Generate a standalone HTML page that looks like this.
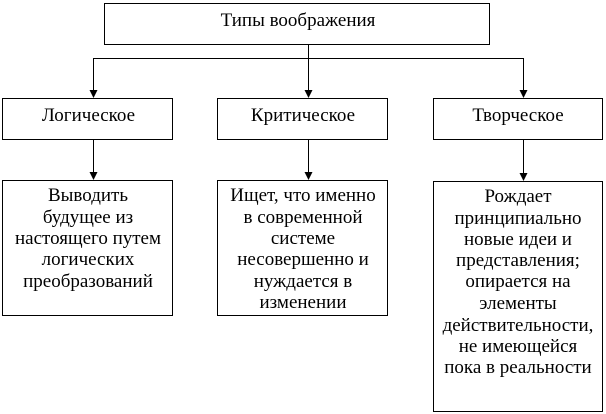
<!DOCTYPE html>
<html lang="ru">
<head>
<meta charset="utf-8">
<title>Типы воображения</title>
<style>
html,body{margin:0;padding:0;background:#fff;width:606px;height:414px;overflow:hidden}
svg{display:block}
text{font-family:"Liberation Serif","DejaVu Serif",serif;font-size:19px;fill:#000;text-anchor:middle}
rect{fill:#fff;stroke:#000;stroke-width:1}
line{stroke:#000;stroke-width:1}
polygon{fill:#000}
</style>
</head>
<body>
<svg width="606" height="414" viewBox="0 0 606 414" xmlns="http://www.w3.org/2000/svg" shape-rendering="crispEdges">
  <rect x="104.5" y="3.5" width="385" height="41"/>
  <rect x="2.5" y="98.5" width="170" height="41"/>
  <rect x="217.5" y="98.5" width="170" height="41"/>
  <rect x="433.5" y="98.5" width="169" height="41"/>
  <rect x="2.5" y="180.5" width="170" height="135"/>
  <rect x="217.5" y="180.5" width="170" height="135"/>
  <rect x="433.5" y="181.5" width="169" height="230"/>

  <line x1="93" y1="58.5" x2="524" y2="58.5"/>
  <line x1="93.5" y1="58" x2="93.5" y2="92"/>
  <line x1="308.5" y1="44" x2="308.5" y2="92"/>
  <line x1="523.5" y1="58" x2="523.5" y2="92"/>
  <line x1="93.5" y1="139" x2="93.5" y2="174"/>
  <line x1="308.5" y1="139" x2="308.5" y2="174"/>
  <line x1="523.5" y1="139" x2="523.5" y2="175"/>

  <g shape-rendering="auto">
    <polygon points="89.5,90 97.5,90 93.5,98"/>
    <polygon points="304.5,90 312.5,90 308.5,98"/>
    <polygon points="519.5,90 527.5,90 523.5,98"/>
    <polygon points="89.5,172 97.5,172 93.5,180"/>
    <polygon points="304.5,172 312.5,172 308.5,180"/>
    <polygon points="519.5,173 527.5,173 523.5,181"/>
  </g>

  <text x="298" y="26">Типы воображения</text>
  <text x="88.5" y="121">Логическое</text>
  <text x="303" y="121">Критическое</text>
  <text x="518" y="121">Творческое</text>

  <text x="88" y="201">Выводить</text>
  <text x="88" y="223">будущее из</text>
  <text x="88" y="244">настоящего путем</text>
  <text x="88" y="265">логических</text>
  <text x="88" y="287">преобразований</text>

  <text x="303" y="201">Ищет, что именно</text>
  <text x="303" y="223">в современной</text>
  <text x="303" y="244">системе</text>
  <text x="303" y="265">несовершенно и</text>
  <text x="303" y="287">нуждается в</text>
  <text x="303" y="308">изменении</text>

  <text x="518" y="202">Рождает</text>
  <text x="518" y="224">принципиально</text>
  <text x="518" y="245">новые идеи и</text>
  <text x="518" y="266">представления;</text>
  <text x="518" y="287">опирается на</text>
  <text x="518" y="309">элементы</text>
  <text x="518" y="331">действительности,</text>
  <text x="518" y="352">не имеющейся</text>
  <text x="518" y="373">пока в реальности</text>
</svg>
</body>
</html>
